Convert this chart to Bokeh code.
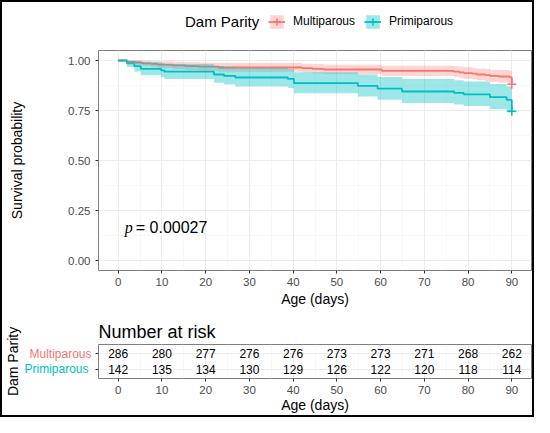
from bokeh.plotting import figure
from bokeh.models import Range1d, FixedTicker, PrintfTickFormatter, Legend, LegendItem, LinearAxis
from bokeh.layouts import column
from bokeh.embed import file_html
from bokeh.resources import INLINE
from bokeh.core.properties import value

# ---------------- data ----------------
groups = ["Multiparous", "Primiparous"]
legend_title = "Dam Parity"

multi_time = [0, 2.0, 4.0, 5.6, 7.5, 9.0, 12.5, 15.3, 18.5, 23.0, 42.0, 44.4, 47.0,
              60.3, 76.8, 78.0, 79.0, 81.0, 82.0, 84.0, 85.0, 87.0, 89.5, 90.0]
multi_surv = [1.000, 0.993, 0.990, 0.986, 0.983, 0.979, 0.976, 0.972, 0.969, 0.965, 0.962, 0.958, 0.955,
              0.948, 0.944, 0.941, 0.937, 0.934, 0.930, 0.927, 0.923, 0.920, 0.916, 0.881]
multi_lower = [1.000, 0.983, 0.979, 0.972, 0.968, 0.963, 0.958, 0.953, 0.949, 0.944, 0.940, 0.935, 0.931,
               0.923, 0.918, 0.914, 0.909, 0.906, 0.901, 0.897, 0.893, 0.889, 0.884, 0.844]
multi_upper = [1.000, 1.000, 1.000, 1.000, 0.998, 0.996, 0.994, 0.991, 0.989, 0.987, 0.984, 0.982, 0.979,
               0.974, 0.971, 0.969, 0.966, 0.963, 0.960, 0.958, 0.954, 0.952, 0.949, 0.919]

primi_time = [0, 2.0, 3.7, 5.2, 9.8, 10.6, 21.9, 24.2, 26.8, 38.8, 40.2, 54.8, 59.3,
              64.9, 76.8, 79.0, 85.0, 88.8, 90.0]
primi_surv = [1.000, 0.986, 0.972, 0.958, 0.951, 0.944, 0.930, 0.923, 0.915, 0.908, 0.887, 0.873, 0.859,
              0.845, 0.838, 0.831, 0.817, 0.803, 0.746]
primi_lower = [1.000, 0.967, 0.945, 0.926, 0.916, 0.907, 0.889, 0.880, 0.870, 0.862, 0.836, 0.820, 0.804,
               0.788, 0.780, 0.772, 0.756, 0.740, 0.678]
primi_upper = [1.000, 1.000, 0.999, 0.992, 0.987, 0.983, 0.973, 0.968, 0.962, 0.957, 0.941, 0.930, 0.918,
               0.907, 0.901, 0.895, 0.883, 0.871, 0.821]

risk_times = [0, 10, 20, 30, 40, 50, 60, 70, 80, 90]
risk_multi = [286, 280, 277, 276, 276, 273, 273, 271, 268, 262]
risk_primi = [142, 135, 134, 130, 129, 126, 122, 120, 118, 114]

x_ticks = [0, 10, 20, 30, 40, 50, 60, 70, 80, 90]
x_minor = [5, 15, 25, 35, 45, 55, 65, 75, 85]
y_ticks = [0.0, 0.25, 0.5, 0.75, 1.0]
y_minor = [0.125, 0.375, 0.625, 0.875]
pval_text = "= 0.00027"

# ---------------- style ----------------
RED = "#F8766D"
CYAN = "#00BFC4"
FONT = "Liberation Sans"
TICKC = "#4D4D4D"
W = 530
series = [
    (groups[0], RED, 0.3, multi_time, multi_surv, multi_lower, multi_upper),
    (groups[1], CYAN, 0.38, primi_time, primi_surv, primi_lower, primi_upper),
]


def style_axis(ax):
    ax.axis_line_color = None
    ax.major_tick_line_color = "#333333"
    ax.major_tick_out = 3
    ax.major_tick_in = 0
    ax.minor_tick_line_color = None
    ax.major_label_text_font = FONT
    ax.major_label_text_font_size = "11.5px"
    ax.major_label_text_color = TICKC
    ax.major_label_standoff = 3
    ax.axis_label_text_font = FONT
    ax.axis_label_text_font_size = "14px"
    ax.axis_label_text_font_style = "normal"
    ax.axis_label_text_color = "black"


def style_fig(fig):
    for ax in (fig.xaxis, fig.yaxis):
        style_axis(ax)
    fig.outline_line_color = "#7F7F7F"
    fig.outline_line_width = 1
    fig.outline_line_alpha = 1
    fig.background_fill_color = "white"
    fig.border_fill_color = "white"
    fig.xgrid.grid_line_color = "#EBEBEB"
    fig.xgrid.grid_line_width = 1
    fig.xgrid.minor_grid_line_color = "#F3F3F3"
    fig.xgrid.minor_grid_line_width = 0.6
    fig.ygrid.grid_line_color = "#EBEBEB"
    fig.ygrid.grid_line_width = 1


def style_legend(lgd, size):
    lgd.label_text_font = FONT
    lgd.label_text_font_size = size
    lgd.label_text_color = "black"
    lgd.padding = 0
    lgd.margin = 0
    lgd.border_line_color = None
    lgd.background_fill_alpha = 0


# ---------------- legend strip (its glyphs lie outside its view) ----------------
lg = figure(width=W, height=38, x_range=Range1d(1000, 1001), y_range=Range1d(1000, 1001),
            x_axis_type=None, y_axis_type=None, output_backend="svg", toolbar_location=None,
            min_border_left=0, min_border_right=0, min_border_top=0, min_border_bottom=0)
lg.outline_line_color = None
lg.border_fill_color = "white"
lg.background_fill_color = "white"
items = []
for g, c, a, tt, ss, lo, up in series:
    rb = lg.varea_step(x=tt, y1=lo, y2=up, step_mode="after", fill_color=c, fill_alpha=a)
    rl = lg.step(x=tt, y=ss, mode="after", line_color=c, line_width=1.8)
    rc = lg.scatter(x=tt[-1:], y=ss[-1:], marker="cross", size=9, line_color=c, line_width=1.5)
    items.append(LegendItem(label=g, renderers=[rb, rl, rc]))
rt = lg.step(x=multi_time, y=multi_surv, mode="after", line_alpha=0)

legend_t = Legend(items=[LegendItem(label=legend_title, renderers=[rt])],
                  orientation="horizontal", location=(86, 10))
style_legend(legend_t, "15px")
legend_t.glyph_width = 1
legend_t.glyph_height = 17
legend_t.label_standoff = 0
lg.add_layout(legend_t)

legend = Legend(items=items, orientation="horizontal", location=(170, 10.5))
style_legend(legend, "12px")
legend.glyph_width = 17
legend.glyph_height = 17
legend.label_standoff = 8
legend.spacing = 9
lg.add_layout(legend)

# ---------------- main survival plot ----------------
p = figure(width=W, height=274, x_range=Range1d(-4.5, 94.5), y_range=Range1d(-0.05, 1.05),
           output_backend="svg", toolbar_location=None,
           min_border_left=94, min_border_right=1, min_border_top=10, min_border_bottom=44)
p.xaxis.ticker = FixedTicker(ticks=x_ticks, minor_ticks=x_minor)
p.yaxis.ticker = FixedTicker(ticks=y_ticks, minor_ticks=y_minor)
p.yaxis.formatter = PrintfTickFormatter(format="%.2f")
style_fig(p)
p.ygrid.minor_grid_line_color = "#F3F3F3"
p.ygrid.minor_grid_line_width = 0.6
p.xaxis.axis_label = "Age (days)"
p.yaxis.axis_label = "Survival probability"
p.xaxis.axis_label_standoff = 2
p.yaxis.axis_label_standoff = 40
p.yaxis.major_label_standoff = 4

for g, c, a, tt, ss, lo, up in series:
    p.step(tt, ss, mode="after", line_color=c, line_width=1.8)
for g, c, a, tt, ss, lo, up in series:
    p.varea_step(x=tt, y1=lo, y2=up, step_mode="after", fill_color=c, fill_alpha=a)
for g, c, a, tt, ss, lo, up in series:
    p.scatter(tt[-1:], ss[-1:], marker="cross", size=9, line_color=c, line_width=1.5)

p.text(x=[1.5], y=[0.163], text=["p"], text_font=value("Liberation Serif"),
       text_font_style="italic", text_font_size="16px", text_baseline="alphabetic",
       text_color="black")
p.text(x=[1.5], y=[0.163], text=[pval_text], x_offset=11, text_font=value(FONT),
       text_font_size="16px", text_baseline="alphabetic", text_color="black")

# ---------------- risk table ----------------
t = figure(width=W, height=101, x_range=Range1d(-4.5, 94.5), y_range=Range1d(0.4, 2.6),
           output_backend="svg", toolbar_location=None,
           min_border_left=94, min_border_right=1, min_border_top=30, min_border_bottom=31,
           title="Number at risk")
t.title.text_font = FONT
t.title.text_font_size = "18px"
t.title.text_font_style = "normal"
t.title.text_color = "black"
t.title.standoff = 6
row_pos = {groups[0]: 2, groups[1]: 1}
t.xaxis.ticker = FixedTicker(ticks=x_ticks, minor_ticks=x_minor)
style_fig(t)
t.xaxis.axis_label = "Age (days)"
t.xaxis.axis_label_standoff = 0

# inner left axis: ticks for both rows, red label for Multiparous
t.yaxis.ticker = FixedTicker(ticks=[row_pos[groups[1]], row_pos[groups[0]]])
t.yaxis.major_label_overrides = {row_pos[groups[0]]: groups[0], row_pos[groups[1]]: " "}
t.yaxis.major_label_text_font_size = "12px"
t.yaxis.major_label_text_color = RED
t.yaxis.major_label_standoff = 4

# outer left axis: cyan label for Primiparous, pulled back next to the frame
ax2 = LinearAxis(ticker=FixedTicker(ticks=[row_pos[groups[1]]]),
                 major_label_overrides={row_pos[groups[1]]: groups[1]})
style_axis(ax2)
ax2.major_tick_out = 0
ax2.major_tick_line_color = None
ax2.major_label_text_font_size = "12px"
ax2.major_label_text_color = CYAN
ax2.major_label_standoff = -62
ax2.axis_label = legend_title
ax2.axis_label_standoff = 0
t.add_layout(ax2, "left")

xs = risk_times + risk_times
ys = [row_pos[groups[0]]] * len(risk_times) + [row_pos[groups[1]]] * len(risk_times)
txt = [str(v) for v in risk_multi] + [str(v) for v in risk_primi]
t.text(x=xs, y=ys, text=txt, text_align="center", text_baseline="middle",
       text_font=value(FONT), text_font_size="12px", text_color="black")

layout = column(lg, p, t, styles={"border": "2px solid black"})
open("out.html", "w").write(file_html(layout, INLINE))
